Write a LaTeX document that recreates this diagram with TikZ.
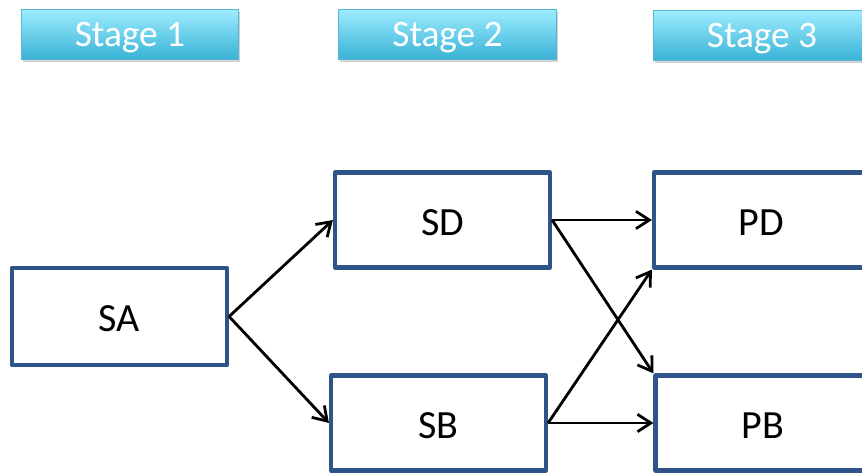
\documentclass[tikz,border=0pt]{standalone}
\usepackage{fontspec}
\setmainfont{Carlito}
\usetikzlibrary{arrows.meta,shadows}

\tikzset{every picture/.style={line width=0.75pt}}
\tikzset{
  stagebox/.style={draw={rgb, 255:red, 88; green, 182; blue, 210 }, line width=0.75pt,
    top color={rgb, 255:red, 156; green, 236; blue, 255 }, bottom color={rgb, 255:red, 58; green, 178; blue, 214 },
    minimum width=163pt, minimum height=37pt, inner sep=0pt, text=white, text depth=0pt,
    font=\fontsize{28}{31}\selectfont,
    drop shadow={opacity=0.35, shadow xshift=1pt, shadow yshift=-2pt}},
  firmbox/.style={draw={rgb, 255:red, 47; green, 84; blue, 138 }, line width=3.4pt, line join=round,
    fill=white, minimum width=161pt, minimum height=71pt, inner sep=0pt,
    text height=23pt, text depth=0pt, font=\fontsize{30}{33}\selectfont},
  flow/.style={-{Straight Barb[length=10pt,width=13pt]}, line width=2.1pt}
}

\begin{document}
\begin{tikzpicture}[x=0.75pt,y=0.75pt,yscale=-1,xscale=1]
  \useasboundingbox (0,0) rectangle (862,473);
  \clip (0,0) rectangle (862,473);
  %Stage headers
  \node[stagebox] (stage1) at (130,34.5) {Stage 1};
  \node[stagebox] (stage2) at (447.5,34.5) {Stage 2};
  \node[stagebox] (stage3) at (762,35.5) {Stage 3};

  %Boxes
  \node[firmbox, minimum height=73pt] (SA) at (119.5,316.5) {SA};
  \node[firmbox] (SD) at (442.5,220) {SD};
  \node[firmbox] (SB) at (438.5,423) {SB};
  \node[firmbox] (PD) at (761.5,220) {PD};
  \node[firmbox] (PB) at (763,423) {PB};

  %Straight Lines
  \draw[flow] (SA.east) -- (SD.west);
  \draw[flow] (SA.east) -- (SB.west);
  \draw[flow] (SD.east) -- (PD.west);
  \draw[flow] (SD.east) -- (PB.north west);
  \draw[flow] (SB.east) -- (PB.west);
  \draw[flow] (SB.east) -- (PD.south west);
\end{tikzpicture}
\end{document}
